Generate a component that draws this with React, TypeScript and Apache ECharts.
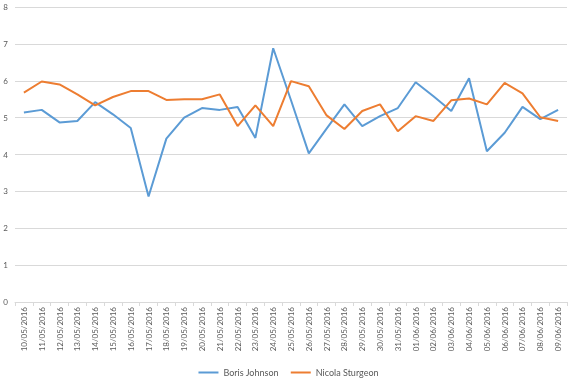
import React, { useEffect, useRef } from "react";
import * as echarts from "echarts";

const categories = [
  "10/05/2016", "11/05/2016", "12/05/2016", "13/05/2016", "14/05/2016", "15/05/2016",
  "16/05/2016", "17/05/2016", "18/05/2016", "19/05/2016", "20/05/2016", "21/05/2016",
  "22/05/2016", "23/05/2016", "24/05/2016", "25/05/2016", "26/05/2016", "27/05/2016",
  "28/05/2016", "29/05/2016", "30/05/2016", "31/05/2016", "01/06/2016", "02/06/2016",
  "03/06/2016", "04/06/2016", "05/06/2016", "06/06/2016", "07/06/2016", "08/06/2016",
  "09/06/2016",
];

const borisJohnson = [
  5.14, 5.21, 4.87, 4.91, 5.42, 5.09, 4.72, 2.86, 4.43, 5.0, 5.26, 5.21, 5.29, 4.45, 6.88,
  5.47, 4.03, 4.7, 5.36, 4.77, 5.04, 5.26, 5.96, 5.58, 5.18, 6.07, 4.09, 4.59, 5.29, 4.96,
  5.21,
];

const nicolaSturgeon = [
  5.68, 5.98, 5.9, 5.63, 5.33, 5.56, 5.72, 5.72, 5.48, 5.5, 5.5, 5.63, 4.77, 5.33, 4.77,
  5.99, 5.85, 5.06, 4.69, 5.18, 5.36, 4.63, 5.04, 4.91, 5.47, 5.52, 5.36, 5.94, 5.66, 5.01,
  4.91,
];

const yTicks = { min: 0, max: 8, interval: 1 };

export default function App() {
  const ref = useRef<HTMLDivElement>(null);
  useEffect(() => {
    if (!ref.current) return;
    const chart = echarts.init(ref.current, null, { renderer: "svg" });
    const font = "Lato, 'Open Sans', sans-serif";
    chart.setOption({
      animation: false,
      grid: { left: 15, right: 10, top: 7, bottom: 82, containLabel: false },
      legend: {
        bottom: 2,
        left: "center",
        itemWidth: 20,
        itemHeight: 2,
        itemGap: 12,
        icon: "rect",
        textStyle: { color: "#595959", fontSize: 9, fontFamily: font },
        data: ["Boris Johnson", "Nicola Sturgeon"],
      },
      xAxis: {
        type: "category",
        data: categories,
        boundaryGap: true,
        axisLine: { lineStyle: { color: "#d9d9d9", width: 1 } },
        axisTick: { show: true, length: 4, lineStyle: { color: "#d9d9d9" } },
        axisLabel: {
          rotate: 90,
          interval: 0,
          color: "#595959",
          fontSize: 8,
          fontFamily: font,
          margin: 5,
        },
      },
      yAxis: {
        type: "value",
        min: yTicks.min,
        max: yTicks.max,
        interval: yTicks.interval,
        axisLine: { show: false },
        axisTick: { show: false },
        axisLabel: { show: true, color: "#595959", fontSize: 8, fontFamily: font, margin: 7 },
        splitLine: { show: true, lineStyle: { color: "#d9d9d9", width: 1 } },
      },
      series: [
        {
          name: "Boris Johnson",
          type: "line",
          data: borisJohnson,
          showSymbol: false,
          symbol: "none",
          lineStyle: { color: "#5b9bd5", width: 2 },
          itemStyle: { color: "#5b9bd5" },
        },
        {
          name: "Nicola Sturgeon",
          type: "line",
          data: nicolaSturgeon,
          showSymbol: false,
          symbol: "none",
          lineStyle: { color: "#ed7d31", width: 2 },
          itemStyle: { color: "#ed7d31" },
        },
      ],
    });
    return () => chart.dispose();
  }, []);
  return (
    <div
      ref={ref}
      style={{ position: "fixed", left: 0, top: 0, width: 577, height: 384 }}
    />
  );
}
